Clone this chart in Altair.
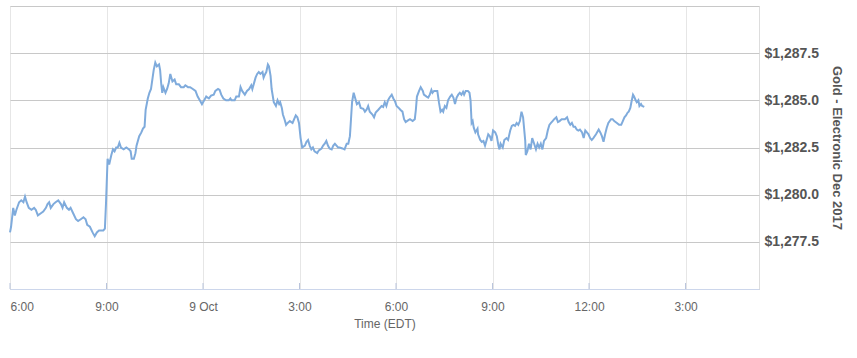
import altair as alt
import pandas as pd

# minutes after 18:00 EDT, 8 Oct 2017, and Gold (Dec 2017) price
t_a = [0,2,6,9,12,17,21,25,28,31,35,40,45,48,52,57,62,67,70,73,76,81,85,90,95,98,101,106,110,113,118,123,127,132,137,141,144,149,154,158,162,166,171,174,177]
v_a = [1278.0,1278.3,1279.3,1278.9,1279.2,1279.6,1279.7,1279.6,1279.9,1279.6,1279.3,1279.2,1279.3,1279.2,1278.9,1279.0,1279.1,1279.3,1279.5,1279.6,1279.3,1279.5,1279.6,1279.7,1279.5,1279.3,1279.6,1279.3,1279.2,1279.3,1279.0,1278.7,1278.6,1278.7,1278.8,1278.7,1278.4,1278.3,1278.0,1277.8,1278.0,1278.1,1278.1,1278.1,1278.2]

t_b = [179,182,185,189,192,195,198,201,204,207,212,217,222,225,227,231,234,236,241,245,248,251,253,257,260,263,266,268,271,274,278,280,282,284,286,290,293,296,299,303,307,310,315,319,324,327,332,336,341,346,350]
v_b = [1279.5,1281.9,1281.6,1282.1,1282.4,1282.3,1282.5,1282.5,1282.75,1282.5,1282.4,1282.5,1282.4,1282.3,1281.9,1281.9,1282.2,1282.6,1283.1,1283.3,1283.5,1283.6,1284.5,1285.1,1285.4,1285.6,1286.2,1286.6,1287.0,1286.8,1286.9,1286.6,1285.9,1285.4,1285.7,1285.4,1285.6,1285.9,1286.4,1286.0,1286.1,1285.85,1285.85,1285.7,1285.7,1285.8,1285.7,1285.7,1285.6,1285.5,1285.2]

t_c = [354,358,363,366,371,375,380,383,388,391,394,398,403,408,411,413,419,422,427,430,433,438,442,446,450,452,455,458,461,464,467,471,473,476,478,481,483,486,488,492,496,499,502,504,507,509,512,515,518,522,527,530,533,536,539]
v_c = [1285.0,1284.8,1285.05,1285.2,1285.1,1285.25,1285.3,1285.5,1285.6,1285.55,1285.3,1285.1,1285.0,1285.0,1285.1,1285.0,1285.0,1285.2,1285.2,1285.7,1285.5,1285.3,1285.5,1285.6,1285.8,1285.6,1285.9,1286.2,1286.4,1286.5,1286.4,1286.5,1286.2,1286.4,1286.5,1286.9,1286.8,1286.3,1285.6,1284.9,1284.7,1285.0,1284.8,1284.9,1284.6,1284.25,1284.0,1283.7,1283.8,1283.9,1283.8,1284.0,1284.2,1284.1,1283.8]

t_d = [542,545,550,553,556,559,562,565,568,573,576,581,584,587,590,593,596,600,603,606,609,612,615,620,624,628,631,634,636,638,641,644,647,651,654,659,662,665,668,671,676,679,682,687,690,693,696,699,702,705,708,712,715,718,721,725,728,732,735,738,743]
v_d = [1283.0,1282.5,1282.6,1282.8,1282.9,1282.6,1282.4,1282.5,1282.3,1282.2,1282.35,1282.45,1282.6,1282.7,1282.85,1282.6,1282.45,1282.4,1282.6,1282.7,1282.6,1282.5,1282.5,1282.45,1282.4,1282.7,1282.7,1283.1,1284.0,1284.9,1285.4,1285.1,1284.8,1284.9,1284.6,1284.55,1284.4,1284.5,1284.7,1284.4,1284.25,1284.1,1284.35,1284.5,1284.6,1284.7,1284.65,1284.9,1284.7,1285.0,1285.15,1285.3,1285.1,1284.95,1284.7,1284.6,1284.5,1284.4,1284.0,1283.85,1283.95]

t_e = [746,751,755,757,759,763,766,770,772,777,780,783,786,788,791,794,797,800,803,806,808,811,814,817,821,824,827,830,833,836,839,842,845,847,850,854,857,859,861,863,865,868,872,873,877,880,883,886,889,892,895,898,901,905,908,911,913,915,919,922,926,929,933,936,939,942,945,948,951]
v_e = [1284.0,1283.9,1284.0,1284.5,1285.2,1285.5,1285.7,1285.5,1285.3,1285.2,1285.15,1285.3,1285.55,1285.4,1285.5,1285.5,1285.5,1284.9,1284.4,1284.5,1284.4,1284.7,1284.6,1285.0,1285.2,1285.3,1285.15,1284.8,1285.15,1285.3,1285.4,1285.3,1285.45,1285.3,1285.5,1285.5,1285.4,1285.0,1283.8,1283.9,1283.55,1283.3,1283.5,1283.2,1282.9,1282.8,1282.85,1282.6,1282.9,1283.2,1283.1,1282.85,1283.4,1283.3,1283.1,1282.6,1282.4,1282.7,1282.5,1282.9,1283.0,1282.9,1283.4,1283.65,1283.7,1283.65,1283.8,1283.7,1283.9]

t_f = [954,957,961,962,965,968,971,974,977,981,984,987,990,993,996,1000,1003,1006,1009,1012,1015,1019,1022,1025,1029,1032,1035,1039,1042,1045,1048,1051,1054,1057,1060,1063,1067,1070,1073,1076,1079,1082,1085,1088,1093,1098,1101,1104,1107,1110,1113,1116,1121,1124,1127,1132,1136,1140,1143,1146,1149,1152,1154,1157,1159,1162,1164,1167,1169,1172,1174,1177,1179,1183]
v_f = [1284.4,1284.1,1282.85,1282.1,1282.3,1282.7,1282.4,1283.0,1282.75,1282.4,1282.7,1282.5,1282.7,1282.4,1282.85,1283.0,1283.4,1283.7,1283.8,1283.9,1284.0,1284.1,1283.85,1283.9,1284.0,1284.0,1284.0,1284.1,1283.85,1283.7,1283.8,1283.6,1283.6,1283.45,1283.4,1283.45,1283.3,1283.0,1283.4,1283.3,1283.2,1283.0,1282.9,1283.0,1283.2,1283.45,1283.3,1283.1,1282.8,1283.2,1283.55,1283.8,1284.0,1284.0,1283.9,1283.8,1283.7,1283.7,1283.9,1284.1,1284.2,1284.35,1284.4,1284.6,1284.9,1285.3,1285.2,1285.0,1284.9,1285.0,1284.7,1284.8,1284.7,1284.65]

tick_hours = [0, 3, 6, 9, 12, 15, 18, 21]          # 6:00, 9:00, 9 Oct, 3:00, 6:00, 9:00, 12:00, 3:00
y_grid = [1275, 1277.5, 1280, 1282.5, 1285, 1287.5, 1290]
x_end_minutes = 1397

minutes = t_a + t_b + t_c + t_d + t_e + t_f
prices = v_a + v_b + v_c + v_d + v_e + v_f

ms0 = int(pd.Timestamp("2017-10-08 18:00", tz="UTC").value // 10**6)
df = pd.DataFrame({"time": [ms0 + m * 60000 for m in minutes], "price": prices})
tick_ms = [ms0 + h * 3600000 for h in tick_hours]
ticks_df = pd.DataFrame({"time": tick_ms})

W, H = 749, 283
FONT = "Liberation Sans"

x_scale = alt.Scale(type="utc", domain=[ms0, ms0 + x_end_minutes * 60000], nice=False)
y_scale = alt.Scale(domain=[1275, 1290], zero=False, nice=False)

line = alt.Chart(df).mark_line(color="#7fabdc", strokeWidth=2, interpolate="linear").encode(
    x=alt.X("time:T", scale=x_scale,
            axis=alt.Axis(values=tick_ms,
                          labelExpr="utchours(datum.value) == 0 ? utcFormat(datum.value, '%-d %b') : utcFormat(datum.value, '%-I:%M')",
                          grid=True, gridColor="#e6e6e6", gridWidth=1,
                          domainColor="#ccd6eb", domainWidth=1, ticks=False,
                          labelFlush=True, labelPadding=12, labelFontSize=12, labelColor="#666666", labelFont=FONT,
                          title="Time (EDT)", titleFontSize=12, titleFontWeight="normal", titleColor="#666666",
                          titleFont=FONT, titlePadding=6)),
    y=alt.Y("price:Q", scale=y_scale,
            axis=alt.Axis(orient="right", values=y_grid,
                          labelExpr="(datum.value == 1275 || datum.value == 1290) ? '' : '$' + format(datum.value, ',.1f')",
                          grid=True, gridColor="#c8c8c8", gridWidth=1, domain=False, ticks=False,
                          labelPadding=5, labelFontSize=14, labelFontWeight="bold", labelColor="#555555", labelFont=FONT,
                          title="Gold - Electronic Dec 2017", titleFontSize=13, titleFontWeight="bold",
                          titleColor="#555555", titleFont=FONT, titlePadding=11)),
)

tick_marks = alt.Chart(ticks_df).mark_rule(color="#b8c4dc", strokeWidth=1).encode(
    x=alt.X("time:T", scale=x_scale),
    y=alt.value(H - 6),
    y2=alt.value(H),
)

chart = alt.layer(line, tick_marks).properties(
    width=W, height=H,
    autosize=alt.AutoSizeParams(type="none"),
    padding={"left": 10, "top": 6, "right": 98, "bottom": 69},
).configure_view(stroke="#c0c0c0", strokeWidth=1).configure(background="white")

chart.save("out.html", embed_options={"renderer": "svg", "actions": False})
